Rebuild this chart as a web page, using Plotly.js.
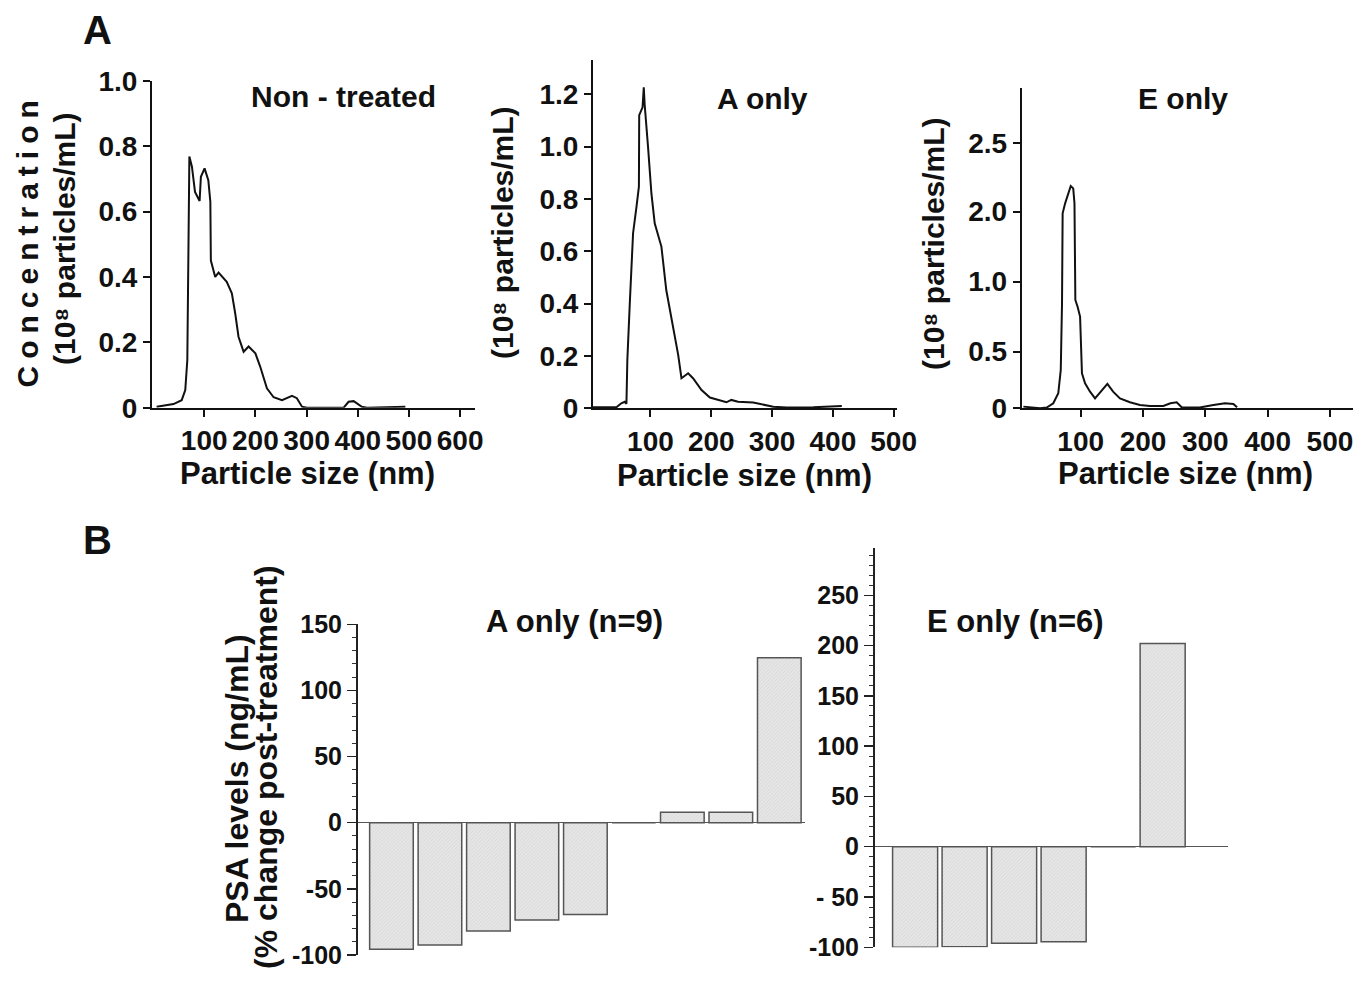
<!DOCTYPE html>
<html>
<head>
<meta charset="utf-8">
<script src="https://cdn.plot.ly/plotly-3.0.1.min.js"></script>
<style>html,body{margin:0;padding:0;background:#fff;}#chart{width:1370px;height:981px;}</style>
</head>
<body>
<div id="chart"></div>
<script>
// ---- Panel A data ----
const nonTreatedSize = [7,40,56,63,67,71,76,82,91,93.5,100.7,108,112,113,121.5,128,144,154,160.6,167,177,186.7,200,209.5,222.5,235.6,252,271.5,281,291,301,372.5,382,392,408,418,493];
const nonTreatedConc = [0.003,0.011,0.023,0.054,0.146,0.768,0.737,0.66,0.632,0.706,0.732,0.696,0.63,0.45,0.40,0.413,0.385,0.35,0.288,0.217,0.171,0.187,0.166,0.125,0.059,0.032,0.023,0.036,0.029,0.003,0,0,0.018,0.02,0.003,0,0.003];

const aOnlySize = [5.5,44,52,57.7,60.5,62,66,71.4,77,81,81.5,87,89,90.5,96,101.6,107,112.6,118,126,137,145.6,151,162,170,184,197.7,214,225,233,244,269,285.6,302,324,368,414.7];
const aOnlyConc = [0.004,0.004,0.019,0.025,0.017,0.185,0.40,0.669,0.77,0.847,1.12,1.15,1.227,1.16,1.0,0.82,0.707,0.662,0.618,0.452,0.312,0.204,0.115,0.134,0.115,0.07,0.041,0.029,0.023,0.032,0.025,0.022,0.015,0.006,0.003,0.004,0.009];

// E only: heights on the (irregularly labelled) axis of the original figure
const eOnlySize = [8,24,34.8,45.5,56,64,68,70,71,75,80,84,88,90,91.4,95,99,100.5,102,107,115,123,133.7,142.8,152,163,179,195,211,232.6,244,254,262,291,313,331.6,345,351];
const eOnlyHeight = [0.012,0.007,0,0.005,0.036,0.107,0.274,0.75,1.393,1.464,1.536,1.588,1.571,1.464,0.774,0.726,0.655,0.393,0.25,0.179,0.119,0.071,0.131,0.174,0.119,0.071,0.043,0.024,0.017,0.017,0.036,0.043,0.007,0.005,0.024,0.036,0.031,0.007];

// tick labels
const sizeTicks1 = [100,200,300,400,500,600];
const sizeTicks23 = [100,200,300,400,500];
const conc1Vals = [0,0.2,0.4,0.6,0.8,1.0];
const conc1Text = ['0','0.2','0.4','0.6','0.8','1.0'];
const conc2Vals = [0,0.2,0.4,0.6,0.8,1.0,1.2];
const conc2Text = ['0','0.2','0.4','0.6','0.8','1.0','1.2'];
const conc3Vals = [0,0.405,0.905,1.405,1.893];
const conc3Text = ['0','0.5','1.0','2.0','2.5'];

// ---- Panel B data ----
const aOnlyPatients = [1,2,3,4,5,6,7,8,9];
const aOnlyChange = [-95.7,-92.4,-81.9,-73.5,-69.3,0,7.9,7.9,124.7];
const eOnlyPatients = [1,2,3,4,5,6];
const eOnlyChange = [-100,-99.4,-96,-94.4,0,202];
const psaAVals = [-100,-50,0,50,100,150];
const psaAText = ['-100','-50','0','50','100','150'];
const psaEVals = [-100,-50,0,50,100,150,200,250];
const psaEText = ['-100','- 50','0','50','100','150','200','250'];

const W = 1370, H = 981;
const fx = p => p / W;
const fy = p => 1 - p / H;
const FONT = 'Liberation Sans, Arial, Helvetica, sans-serif';

const lineStyle = {color: '#111', width: 2};
const traces = [
  {x: nonTreatedSize, y: nonTreatedConc, type: 'scatter', mode: 'lines', line: lineStyle, xaxis: 'x', yaxis: 'y', hoverinfo: 'skip'},
  {x: aOnlySize, y: aOnlyConc, type: 'scatter', mode: 'lines', line: lineStyle, xaxis: 'x2', yaxis: 'y2', hoverinfo: 'skip'},
  {x: eOnlySize, y: eOnlyHeight, type: 'scatter', mode: 'lines', line: lineStyle, xaxis: 'x3', yaxis: 'y3', hoverinfo: 'skip'},
];
const barMarker = {
  color: '#e4e4e4',
  line: {color: '#555', width: 1.5},
  pattern: {shape: '/', size: 2.5, solidity: 0.2, fgcolor: '#cacaca', bgcolor: '#e6e6e6'}
};
traces.push({x: aOnlyPatients, y: aOnlyChange, type: 'bar', width: 0.9, marker: barMarker, xaxis: 'x4', yaxis: 'y4', hoverinfo: 'skip'});
traces.push({x: eOnlyPatients, y: eOnlyChange, type: 'bar', width: 0.91, marker: barMarker, xaxis: 'x5', yaxis: 'y5', hoverinfo: 'skip'});

function topX(domain, range, anchor, vals) {
  return {
    domain: domain, range: range, anchor: anchor,
    showline: true, linecolor: '#111', linewidth: 2,
    ticks: 'outside', ticklen: 7, tickwidth: 2, tickcolor: '#111',
    tickvals: vals, ticktext: vals.map(String),
    showgrid: false, zeroline: false,
    tickfont: {family: FONT, size: 28, weight: 'bold', color: '#111'}
  };
}
function topY(domain, range, anchor, vals, text) {
  return {
    domain: domain, range: range, anchor: anchor,
    showline: true, linecolor: '#111', linewidth: 2,
    ticks: 'outside', ticklen: 7, tickwidth: 2, tickcolor: '#111',
    tickvals: vals, ticktext: text,
    showgrid: false, zeroline: false,
    tickfont: {family: FONT, size: 28, weight: 'bold', color: '#111'}
  };
}
function botX(domain, range, anchor) {
  return {domain: domain, range: range, anchor: anchor, showline: false, showticklabels: false, ticks: '', showgrid: false, zeroline: false};
}
function botY(domain, range, anchor, vals, text) {
  return {
    domain: domain, range: range, anchor: anchor,
    showline: true, linecolor: '#222', linewidth: 2,
    ticks: 'outside', ticklen: 9, tickwidth: 1.5, tickcolor: '#222',
    tickvals: vals, ticktext: text,
    minor: {dtick: 10, ticks: 'outside', ticklen: 4, tickwidth: 1, tickcolor: '#333'},
    showgrid: false, zeroline: true, zerolinecolor: '#555', zerolinewidth: 1.5,
    tickfont: {family: FONT, size: 25, weight: 'bold', color: '#111'}
  };
}

function ann(text, x, y, size, extra) {
  return Object.assign({
    text: text, x: fx(x), y: fy(y), xref: 'paper', yref: 'paper',
    xanchor: 'center', yanchor: 'middle', showarrow: false,
    font: {family: FONT, size: size, weight: 'bold', color: '#111'}
  }, extra || {});
}

const concUnit = '(10\u2078 particles/mL)';

const layout = {
  width: W, height: H,
  margin: {l: 0, r: 0, t: 0, b: 0},
  paper_bgcolor: '#fff', plot_bgcolor: 'rgba(0,0,0,0)',
  showlegend: false,
  xaxis: topX([fx(152), fx(475)], [-2, 629], 'y', sizeTicks1),
  yaxis: topY([fy(407.7), fy(80.7)], [0, 1.0], 'x', conc1Vals, conc1Text),
  xaxis2: topX([fx(593), fx(896.7)], [5.5, 505], 'y2', sizeTicks23),
  yaxis2: topY([fy(408.3), fy(60)], [0, 1.331], 'x2', conc2Vals, conc2Text),
  xaxis3: topX([fx(1021.7), fx(1353)], [5.3, 537], 'y3', sizeTicks23),
  yaxis3: topY([fy(408.3), fy(88.3)], [0, 2.286], 'x3', conc3Vals, conc3Text),
  xaxis4: botX([fx(358), fx(805)], [0.31, 9.53], 'y4'),
  yaxis4: botY([fy(955), fy(624.3)], [-100, 150], 'x4', psaAVals, psaAText),
  xaxis5: botX([fx(875), fx(1228)], [0.19, 7.32], 'y5'),
  yaxis5: botY([fy(947.3), fy(548)], [-100, 297], 'x5', psaEVals, psaEText),
  annotations: [
    ann('A', 97, 30, 40),
    ann('B', 98, 540, 40),
    ann('Non - treated', 343, 97, 30),
    ann('A only', 762, 98, 30),
    ann('E only', 1183, 98, 30),
    ann('Particle size (nm)', 307, 473, 31),
    ann('Particle size (nm)', 744, 475, 31),
    ann('Particle size (nm)', 1185, 473, 31),
    ann('Concentration', 28, 241, 30, {textangle: -90}),
    ann(concUnit, 64, 239, 30, {textangle: -90}),
    ann(concUnit, 503, 233, 30, {textangle: -90}),
    ann(concUnit, 933, 243, 30, {textangle: -90}),
    ann('A only (n=9)', 574, 621, 31),
    ann('E only (n=6)', 1015, 621, 31),
    ann('PSA levels (ng/mL)', 237, 779, 32, {textangle: -90}),
    ann('(% change post-treatment)', 266, 767, 32, {textangle: -90})
  ]
};

Plotly.newPlot('chart', traces, layout, {staticPlot: true, displayModeBar: false}).then(function (gd) {
  gd.querySelectorAll('.annotation-text').forEach(function (t) {
    if (t.textContent === 'Concentration') t.setAttribute('letter-spacing', '7px');
  });
});
</script>
</body>
</html>
